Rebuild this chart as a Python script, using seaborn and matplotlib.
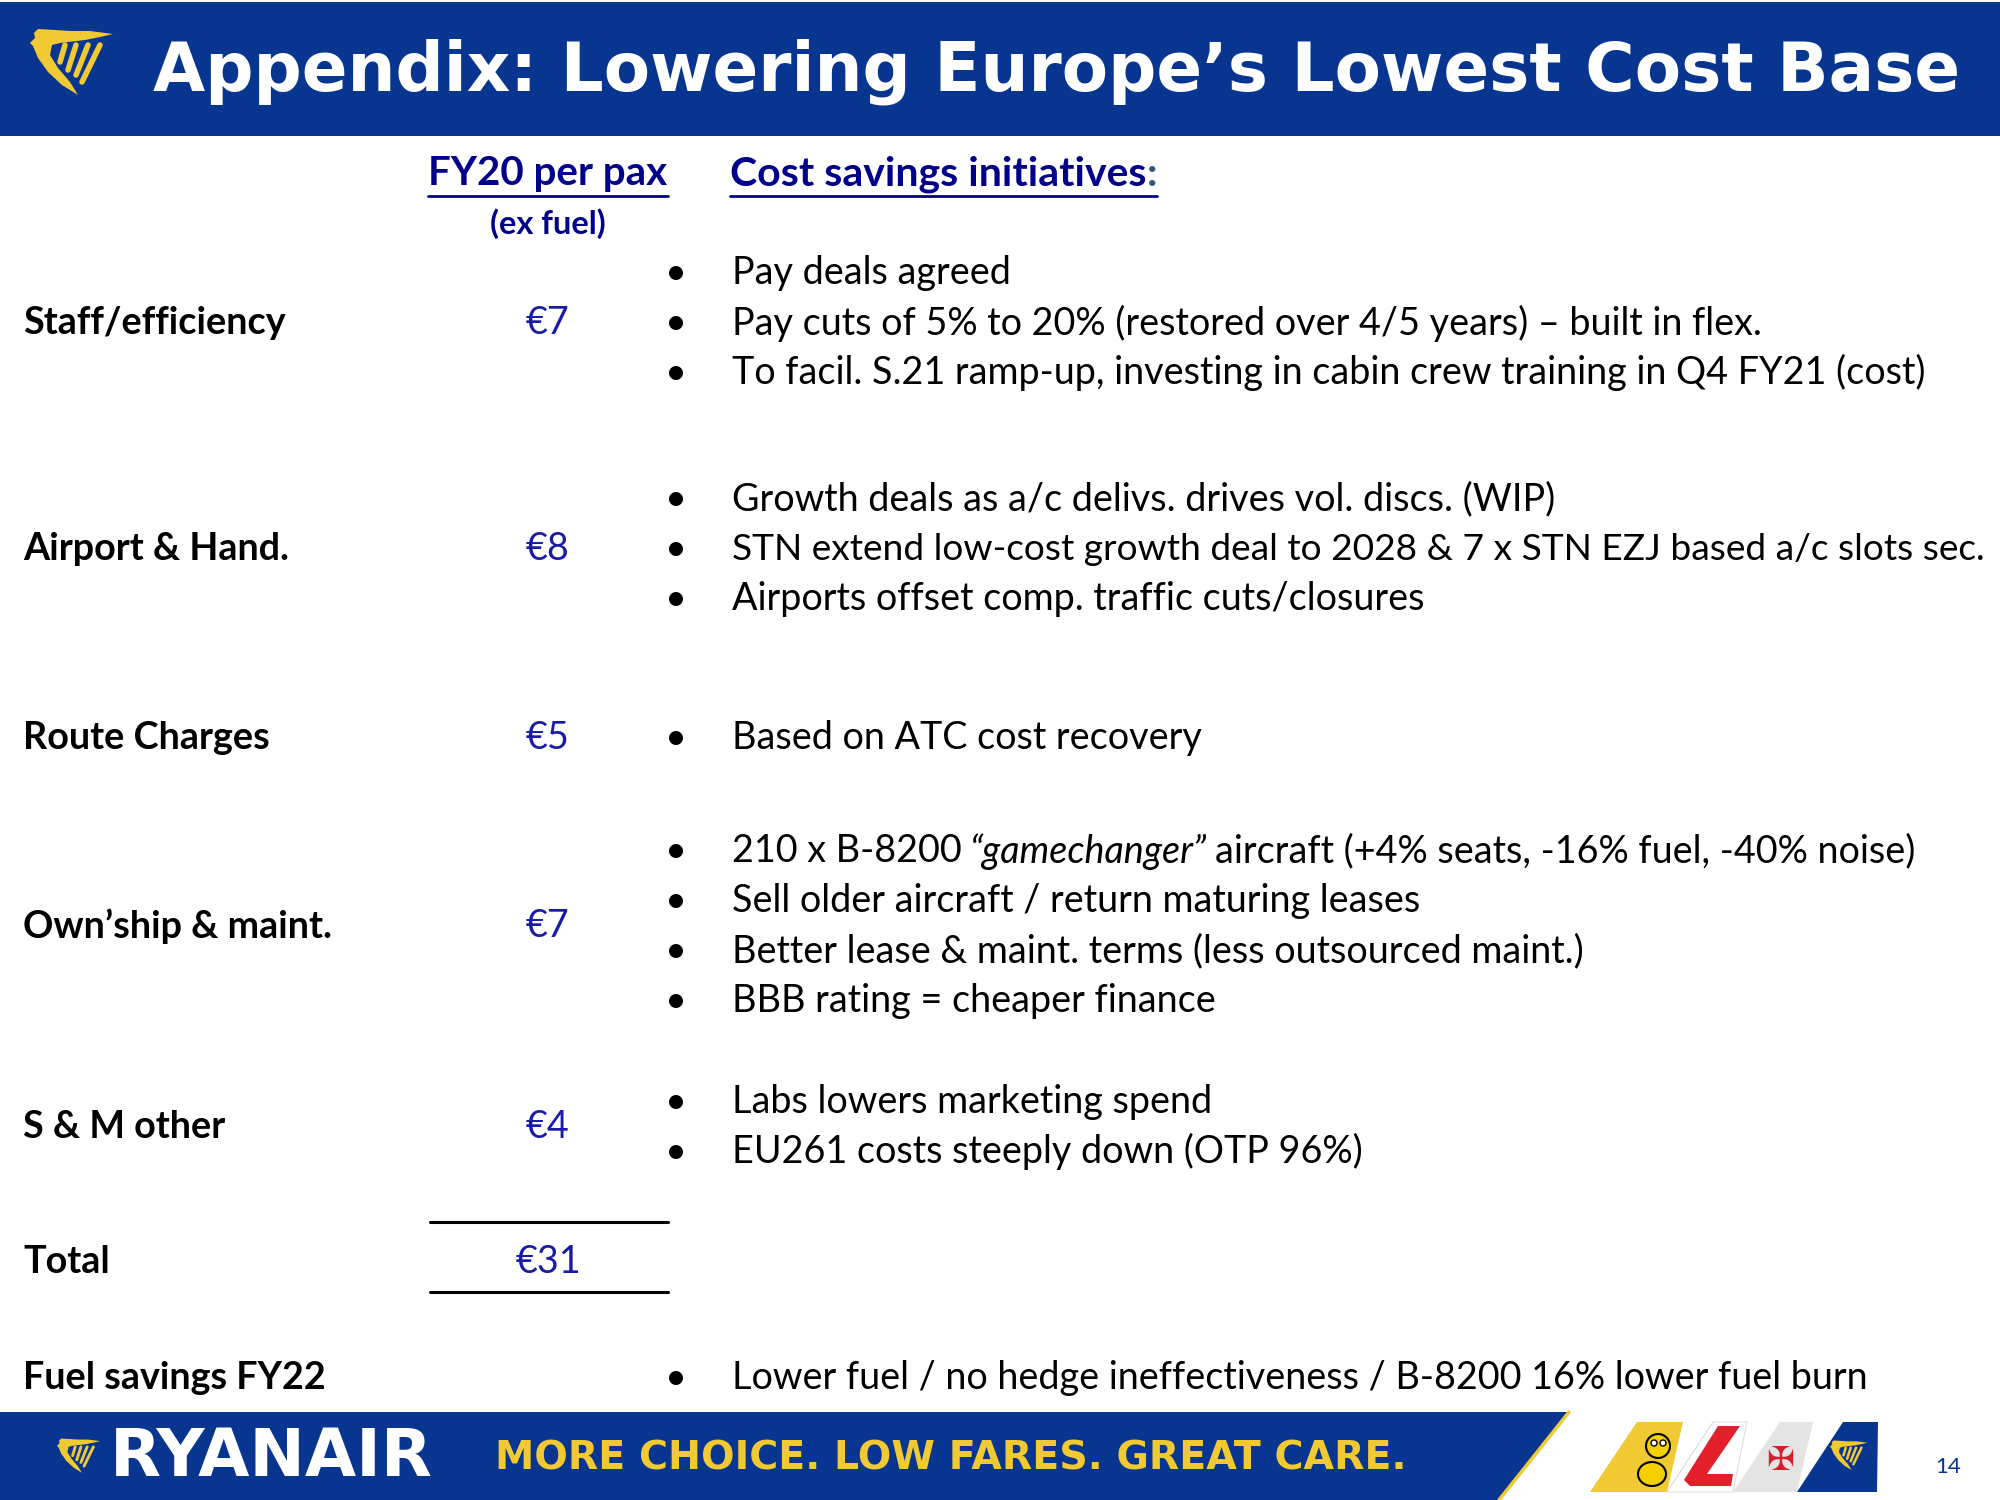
import matplotlib
matplotlib.use("Agg")
import matplotlib.pyplot as plt
from matplotlib.patches import Polygon, Ellipse, Circle
import seaborn as sns

# ---- slide content ----
title = "Appendix: Lowering Europe’s Lowest Cost Base"
col_value = "FY20 per pax"
col_value_sub = "(ex fuel)"
col_notes = "Cost savings initiatives"
categories = ["Staff/efficiency", "Airport & Hand.", "Route Charges", "Own’ship & maint.",
              "S & M other", "Total", "Fuel savings FY22"]
per_pax = [7, 8, 5, 7, 4, 31, None]
initiatives = [
    ["Pay deals agreed",
     "Pay cuts of 5% to 20% (restored over 4/5 years) – built in flex.",
     "To facil. S.21 ramp-up, investing in cabin crew training in Q4 FY21 (cost)"],
    ["Growth deals as a/c delivs. drives vol. discs. (WIP)",
     "STN extend low-cost growth deal to 2028 & 7 x STN EZJ based a/c slots sec.",
     "Airports offset comp. traffic cuts/closures"],
    ["Based on ATC cost recovery"],
    [("210 x B-8200", "“gamechanger”", "aircraft (+4% seats, -16% fuel, -40% noise)"),
     "Sell older aircraft / return maturing leases",
     "Better lease & maint. terms (less outsourced maint.)",
     "BBB rating = cheaper finance"],
    ["Labs lowers marketing spend",
     "EU261 costs steeply down (OTP 96%)"],
    [],
    ["Lower fuel / no hedge ineffectiveness / B-8200 16% lower fuel burn"],
]
brand = "RYANAIR"
slogan = "MORE CHOICE. LOW FARES. GREAT CARE."
page_no = "14"

# ---- layout / style ----
NAVY = "#073590"
YELLOW = "#f1c933"
HEAD_BLUE = "#00008b"
VAL_BLUE = "#1a1aa8"
row_y = [323, 549, 738, 926, 1127, 1262, 1378]
line_gap = 49.7
x_label, x_value, x_bullet, x_text = 23, 548, 676, 732
FS = 27.2
MAX_W = 1250  # keep long bullet lines inside the slide

sns.set_theme(style="white")
plt.rcParams["font.family"] = ["Lato", "DejaVu Sans"]

fig = plt.figure(figsize=(20, 15), dpi=100)
ax = fig.add_axes([0, 0, 1, 1])
ax.set_xlim(0, 2000)
ax.set_ylim(1500, 0)
ax.axis("off")
renderer = fig.canvas.get_renderer()


def fit_width(t, target):
    for _ in range(3):
        w = t.get_window_extent(renderer=renderer).width
        t.set_fontsize(t.get_fontsize() * target / w)


def harp(x0, y0, s, color):
    body = [(38, 29), (55, 30), (70, 31), (90, 31), (113, 34), (100, 37), (85, 40), (60, 43),
            (52, 45), (50, 55), (58, 68), (70, 82), (78, 95), (62, 85), (48, 72), (38, 58),
            (33, 46), (30, 43), (35, 38), (34, 33)]
    pts = [(x0 + (px - 30) * s, y0 + (py - 28) * s) for px, py in body]
    ax.add_patch(Polygon(pts, closed=True, fc=color, ec="none", zorder=3))
    strings = [((65, 45), (60, 62)), ((76, 45), (68, 70)), ((88, 45), (76, 75)), ((100, 45), (82, 82))]
    for (ax0, ay0), (ax1, ay1) in strings:
        ax.plot([x0 + (ax0 - 30) * s, x0 + (ax1 - 30) * s],
                [y0 + (ay0 - 28) * s, y0 + (ay1 - 28) * s],
                color=color, lw=4.0 * s, solid_capstyle="round", zorder=3)


# header band
ax.add_patch(Polygon([(0, 2), (2000, 2), (2000, 136), (0, 136)], fc=NAVY, ec="none", zorder=1))
harp(30, 28, 1.0, YELLOW)
t = ax.text(153, 72, title, color="white", fontsize=46, fontweight="bold",
            family="DejaVu Sans", ha="left", va="center", zorder=4)
fit_width(t, 1811)

# column headers
h1 = ax.text(x_value, 174, col_value, color=HEAD_BLUE, fontsize=29, fontweight="bold",
             ha="center", va="center")
ax.text(x_value, 224, col_value_sub, color=HEAD_BLUE, fontsize=23.5, fontweight="bold",
        ha="center", va="center")
h2 = ax.text(730, 174, col_notes, color=HEAD_BLUE, fontsize=29.5, fontweight="bold",
             ha="left", va="center")
h3 = ax.annotate(":", xy=(1, 174), xycoords=(h2, "data"), color="#34587a", fontsize=29.5,
                 fontweight="bold", ha="left", va="center")
inv = ax.transData.inverted()
for a, b in [(h1, h1), (h2, h3)]:
    ba = a.get_window_extent(renderer=renderer)
    bb = b.get_window_extent(renderer=renderer)
    (xa, ya), (xb, _) = inv.transform([(ba.x0, ba.y0), (bb.x1, bb.y0)])
    ax.plot([xa, xb], [ya + 3, ya + 3], color=HEAD_BLUE, lw=2.0)

# rows
for name, val, notes, y in zip(categories, per_pax, initiatives, row_y):
    ax.text(x_label, y, name, color="black", fontsize=FS, fontweight="bold",
            ha="left", va="center")
    if val is not None:
        ax.text(x_value, y, f"€{val}", color=VAL_BLUE, fontsize=FS, ha="center", va="center")
    n = len(notes)
    for i, note in enumerate(notes):
        ly = y + (i - (n - 1) / 2) * line_gap
        ax.text(x_bullet, ly, "•", color="black", fontsize=FS, ha="center", va="center")
        if isinstance(note, tuple):
            prev = ax.text(x_text, ly, note[0], color="black", fontsize=FS, ha="left", va="center")
            for j, seg in enumerate(note[1:]):
                prev = ax.annotate(seg, xy=(1, ly), xycoords=(prev, "data"),
                                   xytext=(6, 0), textcoords="offset points",
                                   color="black", fontsize=FS, ha="left", va="center",
                                   fontstyle="italic" if j == 0 else "normal")
        else:
            t = ax.text(x_text, ly, note, color="black", fontsize=FS, ha="left", va="center")
            if t.get_window_extent(renderer=renderer).width > MAX_W:
                fit_width(t, MAX_W)

# total rules
for yy in (1222, 1292):
    ax.plot([430, 668], [yy, yy], color="black", lw=2.2)

# footer band
ax.add_patch(Polygon([(0, 1412), (1569, 1412), (1499, 1500), (0, 1500)], fc=NAVY, ec="none", zorder=1))
ax.plot([1569, 1499], [1412, 1500], color=YELLOW, lw=2.5, zorder=2)
harp(57, 1438, 0.52, YELLOW)
t = ax.text(110, 1458, brand, color="white", fontsize=36, fontweight="bold",
            family="DejaVu Sans", ha="left", va="center", zorder=4)
fit_width(t, 322)
t = ax.text(495, 1458, slogan, color=YELLOW, fontsize=30, fontweight="bold",
            family="DejaVu Sans", ha="left", va="center", zorder=4)
fit_width(t, 911)

# tail fins
ax.add_patch(Polygon([(1590, 1492), (1637, 1422), (1683, 1422), (1667, 1492)], fc=YELLOW, ec="none", zorder=2))
ax.add_patch(Ellipse((1652, 1474), 28, 24, fc="#f5d000", ec="black", lw=1.5, zorder=3))
ax.add_patch(Circle((1658, 1446), 12, fc="#f5d000", ec="black", lw=1.5, zorder=3))
ax.add_patch(Circle((1654, 1443), 3, fc="white", ec="black", lw=1, zorder=4))
ax.add_patch(Circle((1663, 1443), 3, fc="white", ec="black", lw=1, zorder=4))
ax.add_patch(Polygon([(1667, 1492), (1713, 1422), (1747, 1422), (1733, 1492)], fc="white",
                     ec="#dddddd", lw=0.8, zorder=2))
ax.add_patch(Polygon([(1684, 1480), (1718, 1426), (1740, 1426), (1707, 1474), (1733, 1474),
                      (1731, 1486), (1690, 1486)], fc="#e3202a", ec="none", zorder=3))
ax.add_patch(Polygon([(1733, 1492), (1780, 1422), (1813, 1422), (1797, 1492)], fc="#e4e4e4", ec="none", zorder=2))
ax.text(1780, 1460, "✠", color="#d4202a", fontsize=24, family="DejaVu Sans",
        ha="center", va="center", zorder=3)
ax.add_patch(Polygon([(1797, 1492), (1843, 1422), (1878, 1422), (1877, 1492)], fc=NAVY, ec="none", zorder=2))
harp(1830, 1440, 0.45, YELLOW)

ax.text(1948, 1467, page_no, color=NAVY, fontsize=16, ha="center", va="center")

fig.savefig("out.png", dpi=100)
